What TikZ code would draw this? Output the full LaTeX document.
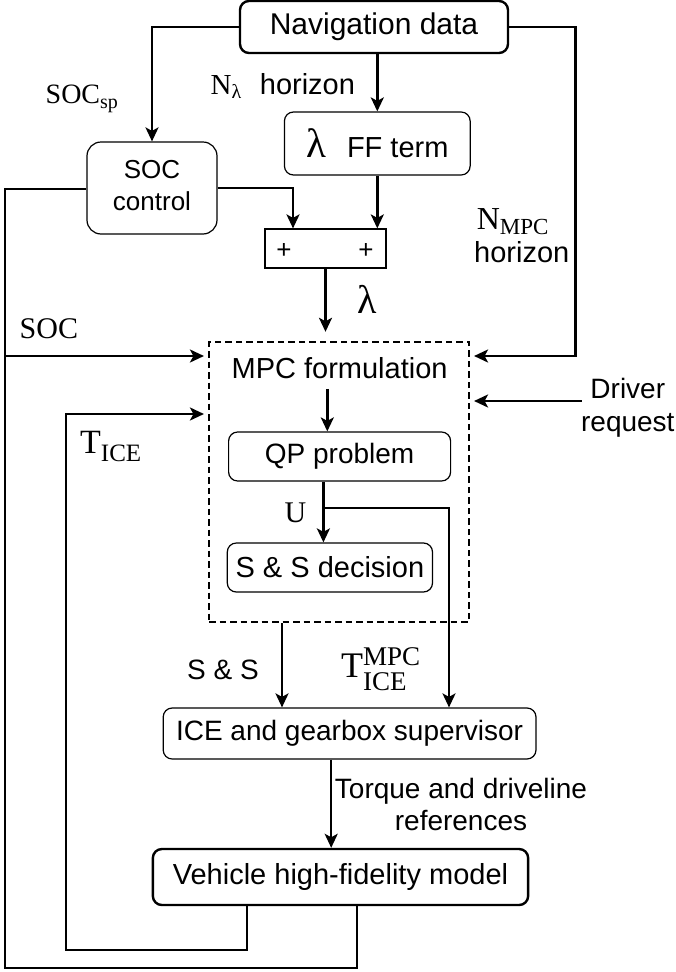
\documentclass[tikz,border=0pt]{standalone}
\usepackage{fontspec}
\setmainfont{Liberation Sans}
\newfontfamily\tms{Liberation Serif}
\usetikzlibrary{arrows.meta,calc}
\newcommand{\fs}[1]{\fontsize{#1}{#1}\selectfont}
\begin{document}
\begin{tikzpicture}[x=1pt,y=-1pt,
  line/.style={line width=2.4pt},
  arr/.style={line width=2.4pt,-{Stealth[length=14pt,width=13pt,inset=3.5pt]}},
  box/.style={draw,line width=1.2pt,rounded corners=9pt,inner sep=0pt},
  bbox/.style={draw,line width=2.4pt,rounded corners=9pt,inner sep=0pt},
  lab/.style={inner sep=0pt,anchor=base west}]
\useasboundingbox (0,0) rectangle (675,972);

% boxes
\node[bbox,minimum width=268pt,minimum height=52pt] (nav) at (374,27) {\fs{30}Navigation data};
\node[box,rounded corners=14pt,minimum width=130pt,minimum height=92pt] (soc) at (152,188) {\fontsize{26}{32}\selectfont\begin{tabular}{@{}c@{}}SOC\\control\end{tabular}};
\node[box,minimum width=185.7pt,minimum height=63pt] (ff) at (377.3,143.5) {{\tms\fs{41}λ}\hspace{21pt}{\fs{29}FF term}};
\node[draw,line width=1.2pt,minimum width=121pt,minimum height=39pt] (plus) at (325.5,248.5) {};
\node[inner sep=0pt] (p1) at (284,251) {\fs{26}+};
\node[inner sep=0pt] (p2) at (366,251) {\fs{26}+};
\node[draw,line width=2.4pt,dash pattern=on 6.5pt off 4pt,minimum width=259.7pt,minimum height=280pt] (mpc) at (339,482) {};
\node[inner sep=0pt] (mpcf) at (339.6,368) {\fs{29}MPC formulation};
\node[box,minimum width=222pt,minimum height=49pt] (qp) at (339.6,456.5) {\fs{28}QP problem};
\node[box,minimum width=205.2pt,minimum height=49pt] (ssd) at (329.9,567.5) {\fs{29}S \& S decision};
\node[box,minimum width=372.8pt,minimum height=51pt] (ice) at (349.6,733.5) {\fs{28}ICE and gearbox supervisor};
\node[bbox,minimum width=375.3pt,minimum height=56pt] (veh) at (340.5,877) {\fs{29}Vehicle high-fidelity model};

% labels
\node[lab] (socsp) at (45.5,103) {\tms\fs{28}SOC\raisebox{-5pt}{\fs{20}sp}};
\node[lab] (nlam) at (210.4,94) {\tms\fs{29}N\raisebox{-4pt}{\fs{20}λ}};
\node[lab] (hor1) at (259.7,94) {\fs{29}horizon};
\node[lab] (nmpc) at (476.6,229) {\tms\fs{32}N\raisebox{-5pt}{\fs{23}MPC}};
\node[lab] (hor2) at (474,262) {\fs{29}horizon};
\node[lab] (lam) at (357,313) {\tms\fs{40}λ};
\node[lab] (soclab) at (19.5,338) {\tms\fs{30}SOC};
\node[lab] (tice) at (80,453) {\tms\fs{34}T\raisebox{-8pt}{\fs{25}ICE}};
\node[anchor=base,inner sep=0pt] (drv) at (627.8,398) {\fontsize{28}{33}\selectfont\begin{tabular}[t]{@{}c@{}}Driver\\request\end{tabular}};
\node[lab] (ulab) at (284.4,522) {\tms\fs{30}U};
\node[lab] (sslab) at (187,679) {\fs{28}S \& S};
\node[lab] (tmpc) at (341,677) {\tms\fs{36}T\raisebox{12pt}{\rlap{\fs{27}MPC}}\raisebox{-13pt}{\fs{27}ICE}};
\node[anchor=base,inner sep=0pt] (tq) at (461,798) {\fontsize{28}{32}\selectfont\begin{tabular}[t]{@{}c@{}}Torque and driveline\\references\end{tabular}};

% coordinates
\coordinate (u) at (323.4,508);
\coordinate (L1) at (5,189);
\coordinate (L2) at (5,968);
\coordinate (S1) at (5,356);
\coordinate (T1) at (66,414);
\coordinate (T2) at (66,950);
\coordinate (D) at (581.8,401);
\coordinate (R1) at (575.3,29);
\coordinate (vA) at ($(veh.south)+(-93.7,0)$);
\coordinate (vB) at ($(veh.south)+(16.6,0)$);
\coordinate (m1) at ($(mpcf.south)+(-12.3,10)$);
\coordinate (q1) at ($(qp.south)+(-16.2,0)$);
\coordinate (m2) at ($(mpc.south)+(-57,0)$);
\coordinate (i1) at ($(ice.south)+(-18.4,0)$);
\coordinate (pl) at ($(plus.north)+(-32.5,0)$);
\coordinate (ib) at ($(ice.north)+(99.4,0)$);

% connectors
\draw[arr] (nav.west) -| (soc.north);
\draw[arr] (nav.south -| ff.north) -- (ff.north);
\draw[arr,shorten >=4pt] (nav.east) -- (nav.east -| R1) -- (R1 |- S1) -- (S1 -| mpc.east);
\draw[arr] (ff.south) -- (ff.south |- plus.north);
\draw[arr] (soc.east) -| (pl);
\draw[arr,shorten >=9pt] (plus.south) -- (plus.south |- mpc.north);
\draw[line] (vB) -- (vB |- L2) -- (L2) -- (L1) -- (soc.west |- L1);
\draw[arr,shorten >=4pt] (S1) -- (S1 -| mpc.west);
\draw[arr,shorten >=4pt] (vA) -- (vA |- T2) -- (T2) -- (T1) -- (T1 -| mpc.west);
\draw[arr,shorten >=4pt] (D) -- (D -| mpc.east);
\draw[arr] (m1) -- (m1 |- qp.north);
\draw[arr] (q1) -- (q1 |- ssd.north);
\draw[arr] (u) -| (ib);
\draw[arr] (m2) -- (m2 |- ice.north);
\draw[arr] (i1) -- (i1 |- veh.north);
\end{tikzpicture}
\end{document}
